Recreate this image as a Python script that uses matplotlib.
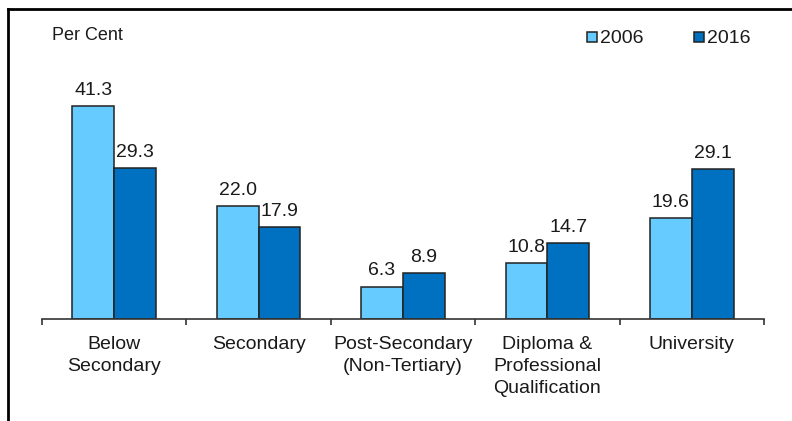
import matplotlib.pyplot as plt
import numpy as np

plt.rcParams['font.family'] = ['Liberation Sans', 'DejaVu Sans']

categories = ["Below\nSecondary", "Secondary", "Post-Secondary\n(Non-Tertiary)",
              "Diploma &\nProfessional\nQualification", "University"]
values_2006 = [41.3, 22.0, 6.3, 10.8, 19.6]
values_2016 = [29.3, 17.9, 8.9, 14.7, 29.1]
years = ["2006", "2016"]

c_light = "#66CCFF"
c_dark = "#0070C0"
txt = "#1a1a1a"

fig = plt.figure(figsize=(7.92, 4.21), dpi=100)
W, H = 792, 421

# outer frame (left + top only, like the cropped original)
fig.add_artist(plt.Line2D([8 / W, 8 / W], [0, 1 - 9 / H], color="black", lw=2))
fig.add_artist(plt.Line2D([8 / W, 1], [1 - 9 / H, 1 - 9 / H], color="black", lw=2))

ax = fig.add_axes([42 / W, 102 / H, 722 / W, 257.5 / H])
x = np.arange(len(categories))
bw = 0.29
b1 = ax.bar(x - bw / 2, values_2006, bw, color=c_light, edgecolor="#222222", lw=1.1)
b2 = ax.bar(x + bw / 2, values_2016, bw, color=c_dark, edgecolor="#222222", lw=1.1)

for bars, vals in [(b1, values_2006), (b2, values_2016)]:
    for b, v in zip(bars, vals):
        ax.annotate(f"{v:.1f}", (b.get_x() + b.get_width() / 2, v),
                    xytext=(0, 8), textcoords="offset points",
                    ha="center", va="baseline", fontsize=14, color=txt)

ax.set_xlim(-0.5, len(categories) - 0.5)
ax.set_ylim(0, 50)
ax.set_yticks([])
for s in ["left", "right", "top"]:
    ax.spines[s].set_visible(False)
ax.spines["bottom"].set_color("#333333")
ax.spines["bottom"].set_linewidth(1.2)

# ticks at category boundaries
ax.set_xticks(np.arange(len(categories) + 1) - 0.5)
ax.set_xticklabels([])
ax.tick_params(axis="x", direction="out", length=4, width=1.2, color="#333333")
for i, c in enumerate(categories):
    ax.annotate(c, (i, 0), xytext=(0, -12), textcoords="offset points",
                ha="center", va="top", fontsize=14, color=txt, linespacing=1.38)

fig.text(52 / W, 1 - 40 / H, "Per Cent", ha="left", va="baseline", fontsize=13, color=txt)

# legend
for xs, col, lab in [(587, c_light, years[0]), (694, c_dark, years[1])]:
    fig.patches.append(plt.Rectangle((xs / W, 1 - 42 / H), 10 / W, 10 / H,
                                     transform=fig.transFigure, facecolor=col,
                                     edgecolor="#222222", lw=1.1))
    fig.text((xs + 13) / W, 1 - 43 / H, lab, ha="left", va="baseline",
             fontsize=14, color=txt)

fig.savefig("out.png", dpi=100)
